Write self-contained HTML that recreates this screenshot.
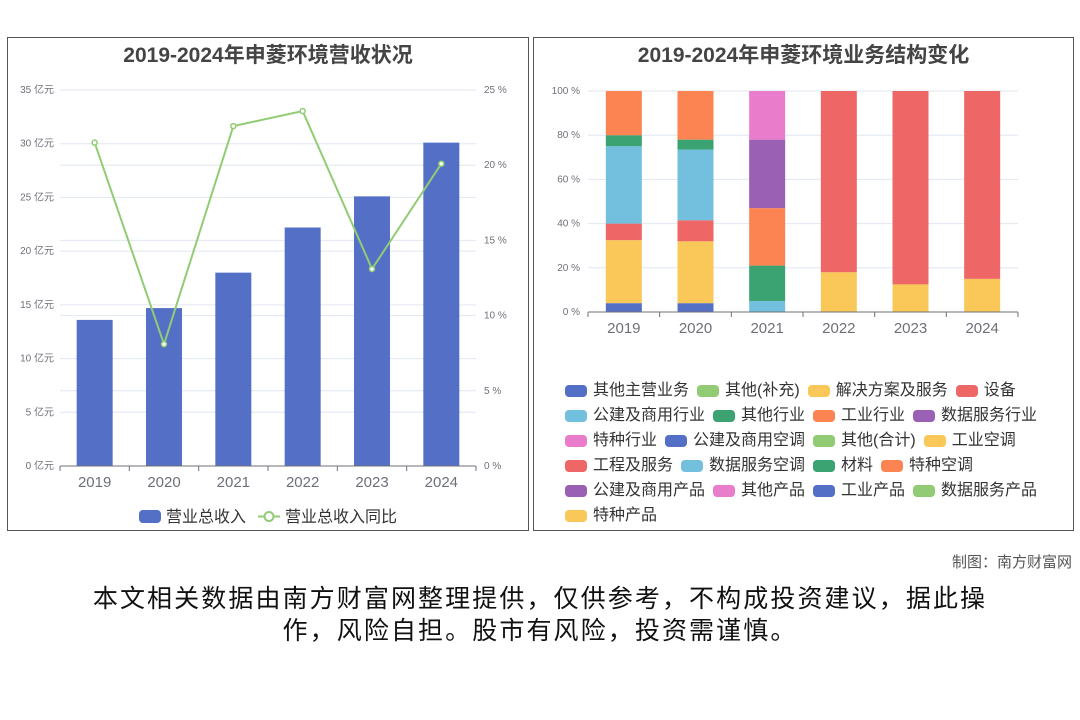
<!DOCTYPE html>
<html><head><meta charset="utf-8">
<style>
body{margin:0;width:1080px;height:720px;background:#fff;position:relative;overflow:hidden;font-family:"Liberation Sans","Noto Sans CJK SC",sans-serif;}
.panel{position:absolute;border:1px solid #555;box-sizing:border-box;}
.title{position:absolute;font-weight:bold;font-size:21px;color:#444;text-align:center;}
#legend2{position:absolute;left:565px;top:378px;width:505px;display:flex;flex-wrap:wrap;font-size:16px;color:#333;line-height:25px;}
.li{display:flex;align-items:center;margin-right:8px;white-space:nowrap;}
.sw{width:22px;height:12px;border-radius:4px;margin-right:6px;}
.foot{position:absolute;right:8px;top:551px;font-size:15px;color:#555;}
.disc{position:absolute;left:40px;width:1000px;top:583px;font-size:25px;letter-spacing:2.1px;line-height:32px;color:#111;text-align:center;white-space:nowrap;}
</style></head><body>
<div class="panel" style="left:7px;top:37px;width:522px;height:494px;"></div>
<div class="panel" style="left:533px;top:37px;width:541px;height:494px;"></div>
<div class="title" style="left:7px;width:522px;top:39px;">2019-2024年申菱环境营收状况</div>
<div class="title" style="left:533px;width:541px;top:39px;">2019-2024年申菱环境业务结构变化</div>
<svg id="svg" width="1080" height="720" style="position:absolute;left:0;top:0"></svg>
<div id="legend2"></div>
<div class="foot">制图：南方财富网</div>
<div class="disc">本文相关数据由南方财富网整理提供，仅供参考，不构成投资建议，据此操<br>作，风险自担。股市有风险，投资需谨慎。</div>
<script>
const years=['2019','2020','2021','2022','2023','2024'];
const revenue=[13.6,14.7,18.0,22.2,25.1,30.1];
const growth=[21.5,8.1,22.6,23.6,13.1,20.1];
const leftTicks=[0,5,10,15,20,25,30,35];
const rightTicks=[0,5,10,15,20,25];
const pctTicks=[0,20,40,60,80,100];
const seriesNames=['其他主营业务','其他(补充)','解决方案及服务','设备','公建及商用行业','其他行业','工业行业','数据服务行业','特种行业','公建及商用空调','其他(合计)','工业空调','工程及服务','数据服务空调','材料','特种空调','公建及商用产品','其他产品','工业产品','数据服务产品','特种产品'];
const seriesColors=['#5470c6','#91cc75','#fac858','#ee6666','#73c0de','#3ba272','#fc8452','#9a60b4','#ea7ccc','#5470c6','#91cc75','#fac858','#ee6666','#73c0de','#3ba272','#fc8452','#9a60b4','#ea7ccc','#5470c6','#91cc75','#fac858'];
const s0=[4,4,0,0,0,0];
const s2=[28.5,28,0,18,12.5,15];
const s3=[7.5,9.5,0,82,87.5,85];
const s4=[35,32,0,0,0,0];
const s5=[5,4.5,0,0,0,0];
const s6=[20,22,0,0,0,0];
const s13=[0,0,5,0,0,0];
const s14=[0,0,16,0,0,0];
const s15=[0,0,26,0,0,0];
const s16=[0,0,31,0,0,0];
const s17=[0,0,22,0,0,0];
const seriesValues={0:s0,2:s2,3:s3,4:s4,5:s5,6:s6,13:s13,14:s14,15:s15,16:s16,17:s17};

const NS='http://www.w3.org/2000/svg';
const svg=document.getElementById('svg');
function mk(t,a,p){const e=document.createElementNS(NS,t);for(const k in a)e.setAttribute(k,a[k]);(p||svg).appendChild(e);return e;}

const L={x0:60,x1:476,y0:466,y1:90};
const yL=v=>L.y0-(v/35)*(L.y0-L.y1);
const yR=v=>L.y0-(v/25)*(L.y0-L.y1);
const bw=(L.x1-L.x0)/years.length;
const xL=i=>L.x0+bw*(i+0.5);
leftTicks.forEach(t=>{
  const g=mk('line',{x1:L.x0,x2:L.x1,y1:yL(t),y2:yL(t),stroke:'#e0e6f1'});
  
  const tx=mk('text',{x:54,y:yL(t)+3,'text-anchor':'end','font-size':10,fill:'#6e7079'});tx.textContent=t+' 亿元';
  
});
rightTicks.forEach(t=>{
  const g=mk('line',{x1:L.x0,x2:L.x1,y1:yR(t),y2:yR(t),stroke:'#e0e6f1'});
  
  const tx=mk('text',{x:484,y:yR(t)+3,'font-size':10,fill:'#6e7079'});tx.textContent=t+' %';
  
});
revenue.forEach((v,i)=>{
  const r=mk('rect',{x:xL(i)-18,y:yL(v),width:36,height:L.y0-yL(v),fill:'#5470c6'});
  
});
const ax=mk('line',{x1:L.x0,x2:L.x1,y1:L.y0,y2:L.y0,stroke:'#6e7079'});

years.forEach((y,i)=>{
  mk('line',{x1:L.x0+bw*i,x2:L.x0+bw*i,y1:L.y0,y2:L.y0+5,stroke:'#6e7079'});
  const t=mk('text',{x:xL(i),y:487,'text-anchor':'middle','font-size':15,fill:'#6e7079'});t.textContent=y;
  
});
mk('line',{x1:L.x1,x2:L.x1,y1:L.y0,y2:L.y0+5,stroke:'#6e7079'});
const pl=mk('polyline',{points:growth.map((v,i)=>xL(i)+','+yR(v)).join(' '),fill:'none',stroke:'#91cc75','stroke-width':2});

growth.forEach((v,i)=>{
  const c=mk('circle',{cx:xL(i),cy:yR(v),r:2.5,fill:'#fff',stroke:'#91cc75','stroke-width':1.5});
  
});
const lg=mk('g',{});
mk('rect',{x:139,y:510,width:22,height:13,rx:4,fill:'#5470c6'},lg);
let t1=mk('text',{x:166,y:522,'font-size':16,fill:'#333'},lg);t1.textContent='营业总收入';
mk('line',{x1:258,x2:280,y1:516.5,y2:516.5,stroke:'#91cc75','stroke-width':2},lg);
mk('circle',{cx:269,cy:516.5,r:4.5,fill:'#fff',stroke:'#91cc75','stroke-width':2},lg);
let t2=mk('text',{x:285,y:522,'font-size':16,fill:'#333'},lg);t2.textContent='营业总收入同比';

const R={x0:588,x1:1018,y0:312,y1:91};
const yP=v=>R.y0-(v/100)*(R.y0-R.y1);
const cw=(R.x1-R.x0)/years.length;
const xP=i=>R.x0+cw*(i+0.5);
pctTicks.forEach(t=>{
  const g=mk('line',{x1:R.x0,x2:R.x1,y1:yP(t),y2:yP(t),stroke:'#e0e6f1'});
  
  const tx=mk('text',{x:580,y:yP(t)+3,'text-anchor':'end','font-size':10,fill:'#6e7079'});tx.textContent=t+' %';
  
});
years.forEach((y,i)=>{
  let acc=0;
  seriesNames.forEach((n,s)=>{
    const arr=seriesValues[s];if(!arr)return;const v=arr[i];if(!v)return;
    const r=mk('rect',{x:xP(i)-18,y:yP(acc+v),width:36,height:yP(acc)-yP(acc+v),fill:seriesColors[s]});
    
    acc+=v;
  });
  mk('line',{x1:R.x0+cw*i,x2:R.x0+cw*i,y1:R.y0,y2:R.y0+5,stroke:'#6e7079'});
  const t=mk('text',{x:xP(i),y:333,'text-anchor':'middle','font-size':15,fill:'#6e7079'});t.textContent=y;
  
});
mk('line',{x1:R.x1,x2:R.x1,y1:R.y0,y2:R.y0+5,stroke:'#6e7079'});
const ax2=mk('line',{x1:R.x0,x2:R.x1,y1:R.y0,y2:R.y0,stroke:'#6e7079'});


const leg=document.getElementById('legend2');
seriesNames.forEach((n,s)=>{
  const d=document.createElement('div');d.className='li';
  
  
  d.innerHTML='<span class="sw" style="background:'+seriesColors[s]+'"></span>'+n;
  leg.appendChild(d);
});
</script>
</body></html>
